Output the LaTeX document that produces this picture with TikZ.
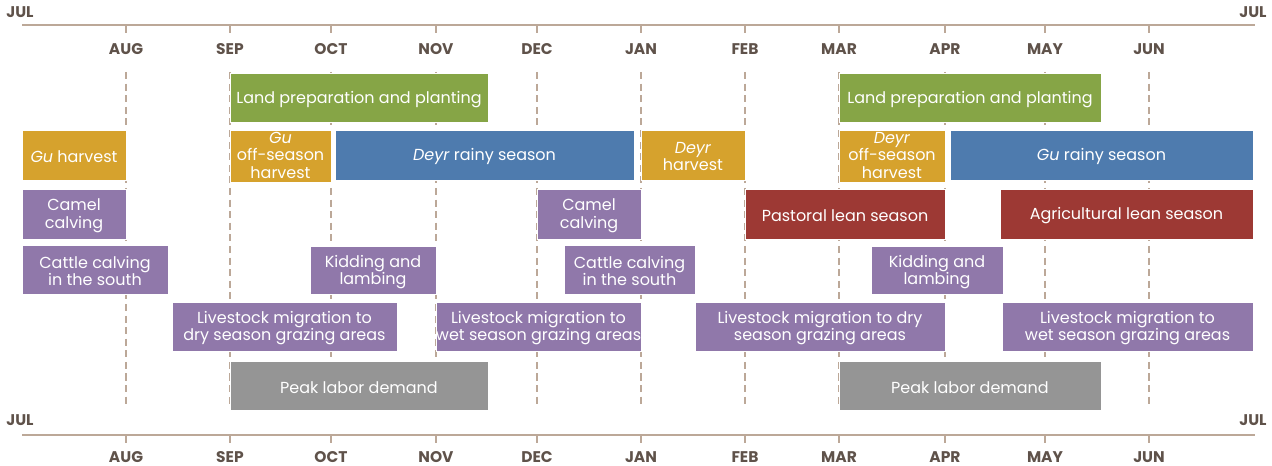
\documentclass[tikz,border=0pt]{standalone}
\usepackage{fontspec}
\setmainfont{Poppins}
\usetikzlibrary{fit}
\definecolor{landgreen}{HTML}{86A546}
\definecolor{harvgold}{HTML}{D6A22D}
\definecolor{rainblue}{HTML}{4E7BAE}
\definecolor{stockpurple}{HTML}{9078AA}
\definecolor{leanred}{HTML}{9D3934}
\definecolor{laborgray}{HTML}{959595}
\definecolor{axistan}{HTML}{BCA898}
\definecolor{monthbrown}{HTML}{5F524A}
\tikzset{
  month/.style={font=\bfseries\fontsize{8.8}{9}\selectfont, text=monthbrown},
  axisline/.style={draw=axistan, line width=0.8pt},
  monthline/.style={draw=axistan, line width=0.7pt, dash pattern=on 4pt off 2.6pt},
  seasonbar/.style={fill=#1, draw=white, line width=0.3pt, inner sep=0pt},
  bartext/.style={text=white, align=center, inner sep=0pt, yshift=-1pt,
    font=\fontsize{9.1}{9.8}\selectfont},
  threeline/.style={yshift=1.4pt}
}
\begin{document}
\begin{tikzpicture}[x=0.02cm,y=-0.02cm]
\useasboundingbox (0,0) rectangle (1272,466);
% month grid
\draw[monthline] (126,72) -- (126,408);
\draw[monthline] (230,72) -- (230,408);
\draw[monthline] (331,72) -- (331,408);
\draw[monthline] (436,72) -- (436,408);
\draw[monthline] (537,72) -- (537,408);
\draw[monthline] (641,72) -- (641,408);
\draw[monthline] (745,72) -- (745,408);
\draw[monthline] (839,72) -- (839,408);
\draw[monthline] (945,72) -- (945,408);
\draw[monthline] (1045,72) -- (1045,408);
\draw[monthline] (1149,72) -- (1149,408);
% top axis
\draw[axisline] (22,25) -- (1255,25);
\foreach \mx in {126,230,331,436,537,641,745,839,945,1045,1149}
  \draw[axisline] (\mx,25) -- (\mx,33);
\node[month] (topjul) at (20,12) {JUL};
\node[month] (topjulr) at (1253,12) {JUL};
\node[month] (topaug) at (126,49) {AUG};
\node[month] (topsep) at (230,49) {SEP};
\node[month] (topoct) at (331,49) {OCT};
\node[month] (topnov) at (436,49) {NOV};
\node[month] (topdec) at (537,49) {DEC};
\node[month] (topjan) at (641,49) {JAN};
\node[month] (topfeb) at (745,49) {FEB};
\node[month] (topmar) at (839,49) {MAR};
\node[month] (topapr) at (945,49) {APR};
\node[month] (topmay) at (1045,49) {MAY};
\node[month] (topjun) at (1149,49) {JUN};
% bottom axis
\draw[axisline] (22,435) -- (1255,435);
\foreach \mx in {126,230,331,436,537,641,745,839,945,1045,1149}
  \draw[axisline] (\mx,435) -- (\mx,443);
\node[month] (botjul) at (20,420) {JUL};
\node[month] (botjulr) at (1253,420) {JUL};
\node[month] (botaug) at (126,457) {AUG};
\node[month] (botsep) at (230,457) {SEP};
\node[month] (botoct) at (331,457) {OCT};
\node[month] (botnov) at (436,457) {NOV};
\node[month] (botdec) at (537,457) {DEC};
\node[month] (botjan) at (641,457) {JAN};
\node[month] (botfeb) at (745,457) {FEB};
\node[month] (botmar) at (839,457) {MAR};
\node[month] (botapr) at (945,457) {APR};
\node[month] (botmay) at (1045,457) {MAY};
\node[month] (botjun) at (1149,457) {JUN};
% land preparation
\node[seasonbar=landgreen, fit={(230,73) (488,122)}] (landone) {};
\node[bartext] (landonetext) at (landone) {Land preparation and planting};
\node[seasonbar=landgreen, fit={(839,73) (1101,122)}] (landtwo) {};
\node[bartext] (landtwotext) at (landtwo) {Land preparation and planting};
% harvests and rains
\node[seasonbar=harvgold, fit={(22,130) (126,180)}] (guharv) {};
\node[bartext] (guharvtext) at (guharv) {\textit{Gu} harvest};
\node[seasonbar=harvgold, fit={(230,130) (331,182)}] (guoff) {};
\node[bartext, threeline] (guofftext) at (guoff) {\textit{Gu}\\off-season\\harvest};
\node[seasonbar=rainblue, fit={(335,130) (634,180)}] (deyrrain) {};
\node[bartext] (deyraintext) at (deyrrain) {\textit{Deyr} rainy season};
\node[seasonbar=harvgold, fit={(641,130) (745,180)}] (deyrharv) {};
\node[bartext] (deyrharvtext) at (deyrharv) {\textit{Deyr}\\harvest};
\node[seasonbar=harvgold, fit={(839,130) (945,182)}] (deyroff) {};
\node[bartext, threeline] (deyrofftext) at (deyroff) {\textit{Deyr}\\off-season\\harvest};
\node[seasonbar=rainblue, fit={(950,130) (1253,180)}] (gurain) {};
\node[bartext] (guraintext) at (gurain) {\textit{Gu} rainy season};
% calving and lean seasons
\node[seasonbar=stockpurple, fit={(22,189) (126,239)}] (camelone) {};
\node[bartext] (camelonetext) at (camelone) {Camel\\calving};
\node[seasonbar=stockpurple, fit={(537,189) (641,239)}] (cameltwo) {};
\node[bartext] (cameltwotext) at (cameltwo) {Camel\\calving};
\node[seasonbar=leanred, fit={(745,189) (945,239)}] (pastlean) {};
\node[bartext] (pastleantext) at (pastlean) {Pastoral lean season};
\node[seasonbar=leanred, fit={(1000,189) (1253,239)}] (agrilean) {};
\node[bartext] (agrileantext) at (agrilean) {Agricultural lean season};
% cattle, kidding
\node[seasonbar=stockpurple, fit={(22,245) (168,294)}] (cattleone) {};
\node[bartext] (cattleonetext) at (cattleone) {Cattle calving\\in the south};
\node[seasonbar=stockpurple, fit={(310,246) (436,294)}] (kidone) {};
\node[bartext] (kidonetext) at (kidone) {Kidding and\\lambing};
\node[seasonbar=stockpurple, fit={(564,245) (695,294)}] (cattletwo) {};
\node[bartext] (cattletwotext) at (cattletwo) {Cattle calving\\in the south};
\node[seasonbar=stockpurple, fit={(871,246) (1003,294)}] (kidtwo) {};
\node[bartext] (kidtwotext) at (kidtwo) {Kidding and\\lambing};
% migrations
\node[seasonbar=stockpurple, fit={(172,302) (397,351)}] (migdryone) {};
\node[bartext] (migdryonetext) at (migdryone) {Livestock migration to\\dry season grazing areas};
\node[seasonbar=stockpurple, fit={(436,302) (641,351)}] (migwetone) {};
\node[bartext] (migwetonetext) at (migwetone) {Livestock migration to\\wet season grazing areas};
\node[seasonbar=stockpurple, fit={(695,302) (945,351)}] (migdrytwo) {};
\node[bartext] (migdrytwotext) at (migdrytwo) {Livestock migration to dry\\season grazing areas};
\node[seasonbar=stockpurple, fit={(1002,302) (1253,351)}] (migwettwo) {};
\node[bartext] (migwettwotext) at (migwettwo) {Livestock migration to\\wet season grazing areas};
% labor
\node[seasonbar=laborgray, fit={(230,361) (488,410)}] (laborone) {};
\node[bartext] (laboronetext) at (laborone) {Peak labor demand};
\node[seasonbar=laborgray, fit={(839,361) (1101,410)}] (labortwo) {};
\node[bartext] (labortwotext) at (labortwo) {Peak labor demand};
\end{tikzpicture}
\end{document}
